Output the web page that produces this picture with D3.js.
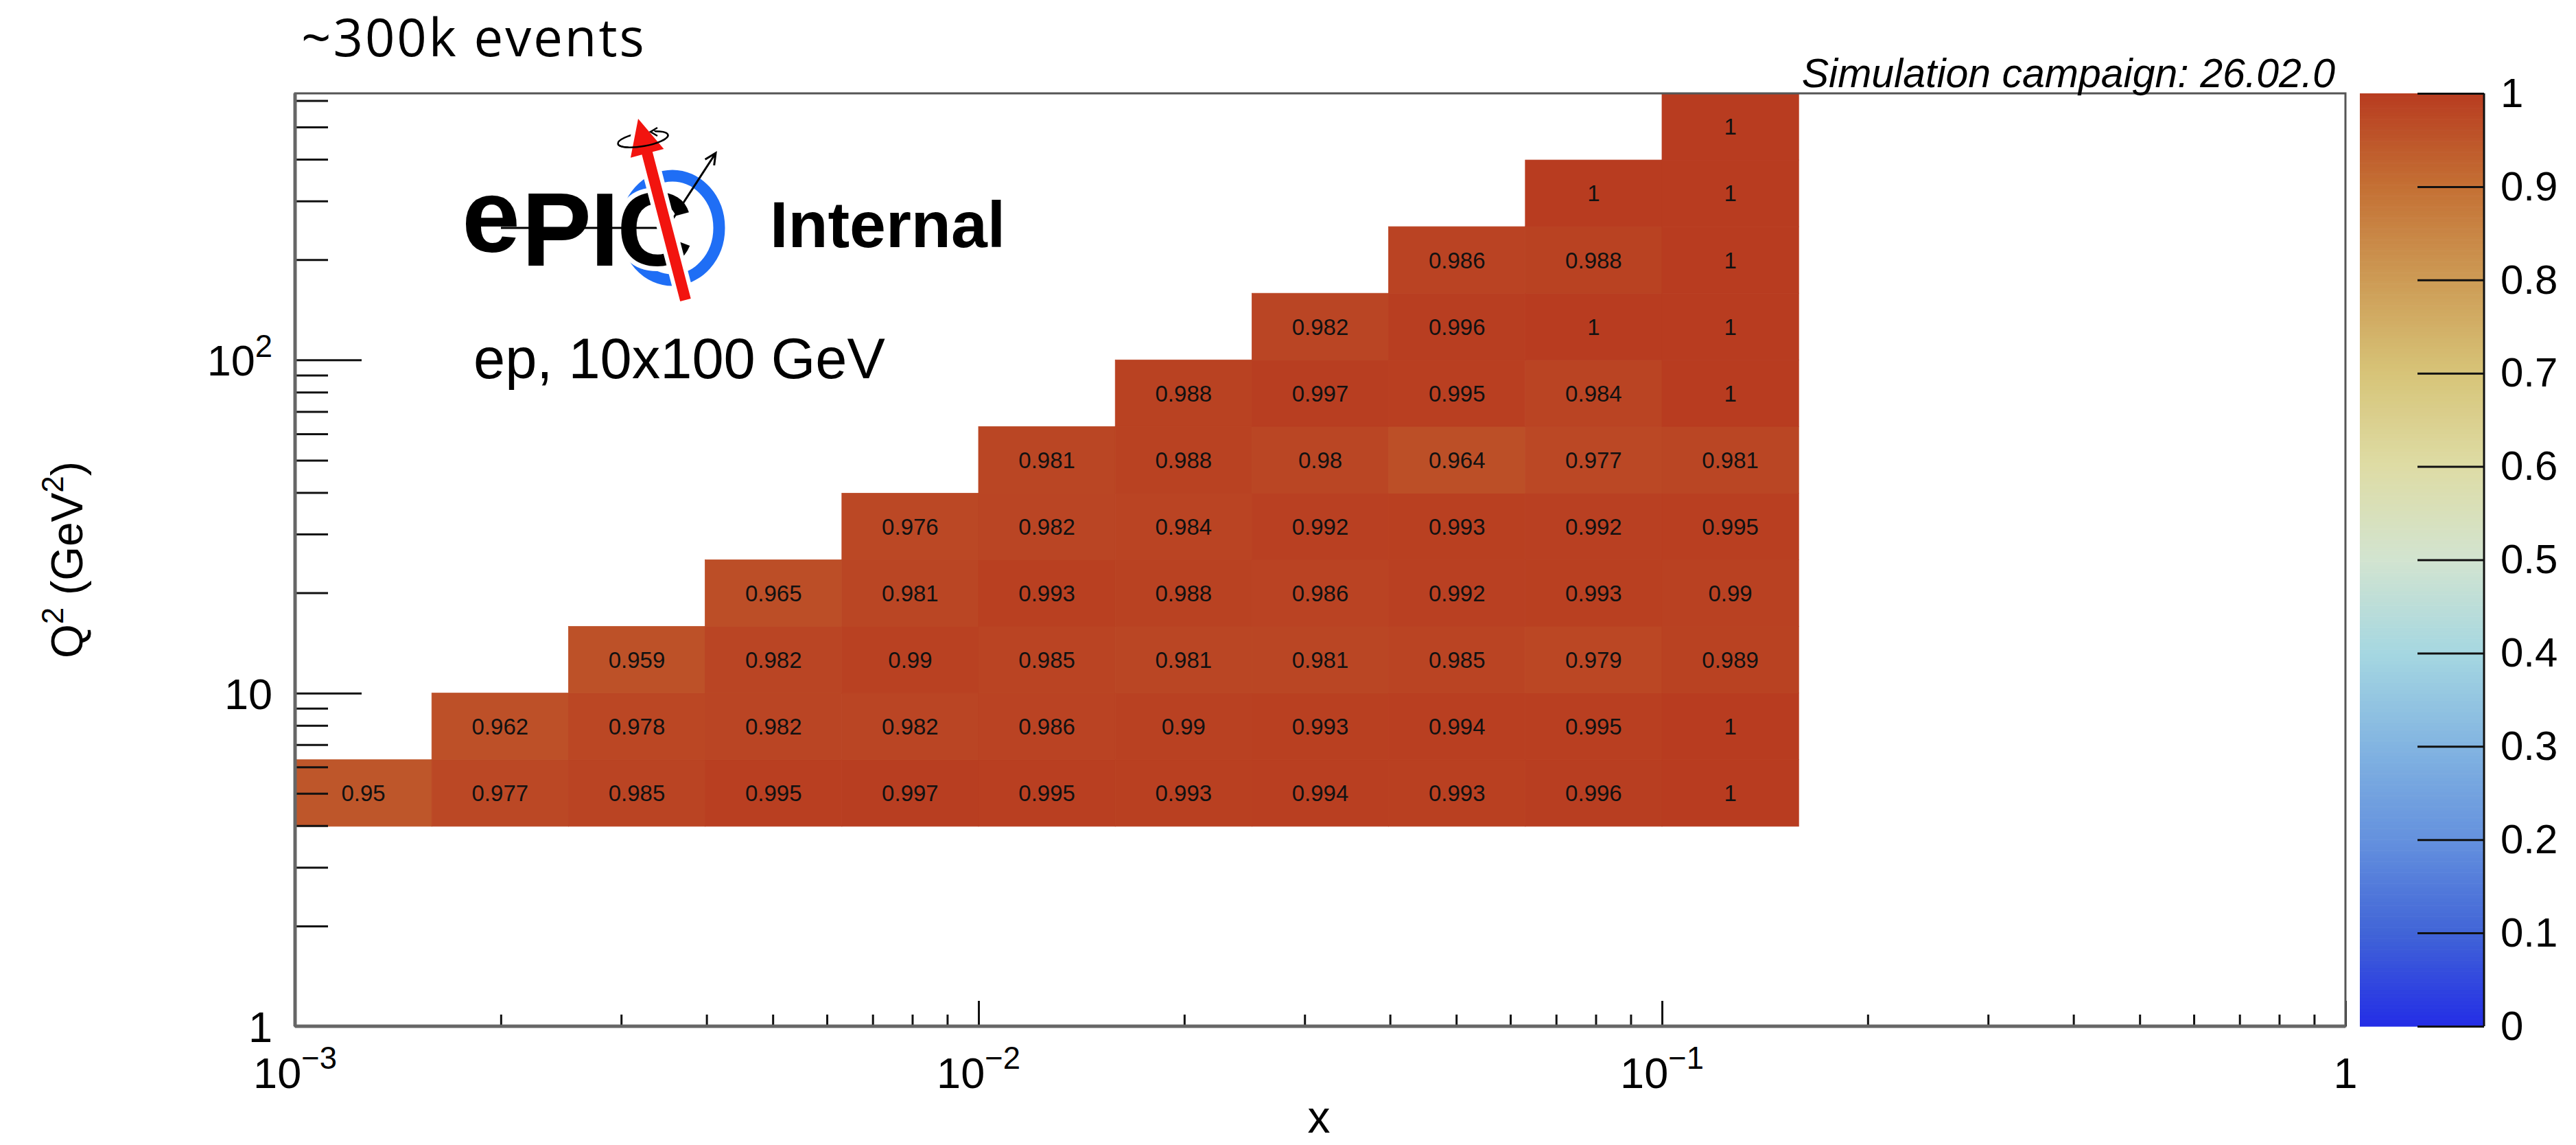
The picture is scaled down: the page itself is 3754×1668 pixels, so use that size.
<!DOCTYPE html>
<html><head><meta charset="utf-8">
<script src="https://cdn.jsdelivr.net/npm/d3@7"></script>
<style>body{margin:0;background:#fff} svg{display:block}</style>
</head><body><svg id="c" width="3754" height="1668"></svg>
<script>
// ---------------- data ----------------
const xBinEdges = [0.001, 0.001585, 0.002512, 0.003981, 0.00631, 0.01, 0.01585, 0.02512, 0.03981, 0.0631, 0.1, 0.1585];
const q2BinEdges = [3.981, 6.31, 10, 15.85, 25.12, 39.81, 63.1, 100, 158.5, 251.2, 398.1, 631];
// efficiency per Q2 row (bottom to top), per x column (left to right); null = empty bin
const effRow0  = [0.95, 0.977, 0.985, 0.995, 0.997, 0.995, 0.993, 0.994, 0.993, 0.996, 1];
const effRow1  = [null, 0.962, 0.978, 0.982, 0.982, 0.986, 0.99, 0.993, 0.994, 0.995, 1];
const effRow2  = [null, null, 0.959, 0.982, 0.99, 0.985, 0.981, 0.981, 0.985, 0.979, 0.989];
const effRow3  = [null, null, null, 0.965, 0.981, 0.993, 0.988, 0.986, 0.992, 0.993, 0.99];
const effRow4  = [null, null, null, null, 0.976, 0.982, 0.984, 0.992, 0.993, 0.992, 0.995];
const effRow5  = [null, null, null, null, null, 0.981, 0.988, 0.98, 0.964, 0.977, 0.981];
const effRow6  = [null, null, null, null, null, null, 0.988, 0.997, 0.995, 0.984, 1];
const effRow7  = [null, null, null, null, null, null, null, 0.982, 0.996, 1, 1];
const effRow8  = [null, null, null, null, null, null, null, null, 0.986, 0.988, 1];
const effRow9  = [null, null, null, null, null, null, null, null, null, 1, 1];
const effRow10 = [null, null, null, null, null, null, null, null, null, null, 1];
const efficiencyRows = [effRow0, effRow1, effRow2, effRow3, effRow4, effRow5, effRow6, effRow7, effRow8, effRow9, effRow10];

const xMajorTicks = [0.001, 0.01, 0.1, 1];
const xMajorLabels = [["10", "\u22123"], ["10", "\u22122"], ["10", "\u22121"], ["1", ""]];
const yMajorTicks = [1, 10, 100];
const yMajorLabels = [["1", ""], ["10", ""], ["10", "2"]];
const zTicks = [0, 0.1, 0.2, 0.3, 0.4, 0.5, 0.6, 0.7, 0.8, 0.9, 1];
const zTickLabels = ["0", "0.1", "0.2", "0.3", "0.4", "0.5", "0.6", "0.7", "0.8", "0.9", "1"];
const paletteStops = [0, 0.1, 0.2, 0.3, 0.4, 0.5, 0.6, 0.7, 0.8, 0.9, 1];
const paletteColors = ["#232de6", "#4164d7", "#6491de", "#82b4e1", "#a5d7e1", "#d2e4d0", "#dedca5", "#d7c478", "#cd9b55", "#c47034", "#b83c20"];

// ---------------- layout ----------------
const L = 430, R = 3418, T = 136, B = 1495;
const CB_L = 3439, CB_R = 3620;
const FONT = "'Liberation Sans', Arial, Helvetica, sans-serif";

const svg = d3.select('#c');
svg.append('rect').attr('width', 3754).attr('height', 1668).attr('fill', '#fff');

const x = d3.scaleLog().domain([0.001, 1]).range([L, R]);
const y = d3.scaleLog().domain([1, 630.96]).range([B, T]);
const color = d3.scaleLinear().domain(paletteStops).range(paletteColors).clamp(true);
const z = d3.scaleLinear().domain([0, 1]).range([B, T]);

// ---------------- cells ----------------
const cells = [];
efficiencyRows.forEach((row, j) => row.forEach((v, i) => { if (v !== null) cells.push({ i, j, v }); }));

const gCells = svg.append('g');
gCells.selectAll('rect').data(cells).join('rect')
  .attr('x', d => x(xBinEdges[d.i]))
  .attr('width', d => x(xBinEdges[d.i + 1]) - x(xBinEdges[d.i]))
  .attr('y', d => y(q2BinEdges[d.j + 1]))
  .attr('height', d => y(q2BinEdges[d.j]) - y(q2BinEdges[d.j + 1]))
  .attr('fill', d => color(d.v))
  .attr('stroke', d => color(d.v)).attr('stroke-width', 0.8);

gCells.selectAll('text').data(cells).join('text')
  .attr('x', d => x(Math.sqrt(xBinEdges[d.i] * xBinEdges[d.i + 1])))
  .attr('y', d => y(Math.sqrt(q2BinEdges[d.j] * q2BinEdges[d.j + 1])))
  .attr('text-anchor', 'middle').attr('dy', '0.36em')
  .attr('font-family', FONT).attr('font-size', 33).attr('fill', '#111')
  .text(d => String(d.v));

// ---------------- axes ticks ----------------
const xMinor = x.ticks().filter(v => !xMajorTicks.some(m => Math.abs(m - v) / v < 1e-6));
const yMinor = y.ticks().filter(v => !yMajorTicks.some(m => Math.abs(m - v) / v < 1e-6));

function styleAxis(g) {
  g.select('.domain').remove();
  g.selectAll('.tick line').attr('stroke', '#111').attr('stroke-width', 3);
  g.selectAll('.tick text').remove();
}
svg.append('g').attr('transform', `translate(0,${B})`)
  .call(d3.axisBottom(x).tickValues(xMinor).tickSize(-17).tickFormat('')).call(styleAxis);
svg.append('g').attr('transform', `translate(0,${B})`)
  .call(d3.axisBottom(x).tickValues(xMajorTicks).tickSize(-37).tickFormat('')).call(styleAxis);
svg.append('g').attr('transform', `translate(${L},0)`)
  .call(d3.axisLeft(y).tickValues(yMinor).tickSize(-48).tickFormat('')).call(styleAxis);
svg.append('g').attr('transform', `translate(${L},0)`)
  .call(d3.axisLeft(y).tickValues(yMajorTicks).tickSize(-97).tickFormat('')).call(styleAxis);

// frame
svg.append('rect').attr('x', L).attr('y', T).attr('width', R - L).attr('height', B - T)
  .attr('fill', 'none').attr('stroke', '#555').attr('stroke-width', 3);
svg.append('line').attr('x1', L).attr('x2', L).attr('y1', T).attr('y2', B).attr('stroke', '#666').attr('stroke-width', 5);
svg.append('line').attr('x1', L).attr('x2', R).attr('y1', B).attr('y2', B).attr('stroke', '#666').attr('stroke-width', 5);

// tick labels with superscripts
function supLabel(sel, parts, size) {
  sel.append('tspan').text(parts[0]);
  if (parts[1]) sel.append('tspan').attr('font-size', size * 0.72).attr('dy', -size * 0.44).text(parts[1]);
}
xMajorTicks.forEach((v, k) => {
  const t = svg.append('text').attr('x', x(v)).attr('y', 1585).attr('text-anchor', 'middle')
    .attr('font-family', FONT).attr('font-size', 63).attr('fill', '#000');
  supLabel(t, xMajorLabels[k], 63);
});
yMajorTicks.forEach((v, k) => {
  const t = svg.append('text').attr('x', 397).attr('y', y(v) + 23).attr('text-anchor', 'end')
    .attr('font-family', FONT).attr('font-size', 63).attr('fill', '#000');
  supLabel(t, yMajorLabels[k], 63);
});

// axis titles
svg.append('text').attr('x', 1922).attr('y', 1650).attr('text-anchor', 'middle')
  .attr('font-family', FONT).attr('font-size', 66).text('x');
const yt = svg.append('text').attr('transform', `translate(120,${(T + B) / 2}) rotate(-90)`)
  .attr('text-anchor', 'middle').attr('font-family', FONT).attr('font-size', 64);
yt.append('tspan').text('Q');
yt.append('tspan').attr('font-size', 44).attr('dy', -28).text('2');
yt.append('tspan').attr('dy', 28).text(' (GeV');
yt.append('tspan').attr('font-size', 44).attr('dy', -28).text('2');
yt.append('tspan').attr('dy', 28).text(')');

// ---------------- colour bar ----------------
const nBands = 255;
const bands = d3.range(nBands).map(k => k / nBands);
svg.append('g').selectAll('rect').data(bands).join('rect')
  .attr('x', CB_L).attr('width', CB_R - CB_L)
  .attr('y', d => z(d + 1 / nBands)).attr('height', d => z(d) - z(d + 1 / nBands) + 0.6)
  .attr('fill', d => color(d + 0.5 / nBands));
svg.append('line').attr('x1', CB_R).attr('x2', CB_R).attr('y1', T).attr('y2', B).attr('stroke', '#111').attr('stroke-width', 3);
const zAx = svg.append('g').attr('transform', `translate(${CB_R},0)`)
  .call(d3.axisRight(z).tickValues(zTicks).tickSize(-97).tickPadding(24).tickFormat((d, i) => zTickLabels[i]));
zAx.select('.domain').remove();
zAx.selectAll('.tick line').attr('stroke', '#111').attr('stroke-width', 3);
zAx.selectAll('.tick text').attr('font-family', FONT).attr('font-size', 60).attr('fill', '#000');

// ---------------- annotations ----------------
svg.append('text').attr('x', 439).attr('y', 82).attr('font-family', "'Open Sans', sans-serif")
  .attr('font-size', 76).attr('letter-spacing', 3).attr('fill', '#000').text('~300k events');
svg.append('text').attr('x', 3403).attr('y', 127).attr('text-anchor', 'end')
  .attr('font-family', FONT).attr('font-style', 'italic').attr('font-size', 59).attr('fill', '#000')
  .text('Simulation campaign: 26.02.0');
svg.append('text').attr('x', 690).attr('y', 551).attr('font-family', FONT).attr('font-size', 83)
  .attr('fill', '#000').text('ep, 10x100 GeV');
svg.append('text').attr('x', 1122).attr('y', 360).attr('font-family', FONT).attr('font-weight', 'bold')
  .attr('font-size', 95).attr('fill', '#000').text('Internal');

// ---------------- ePIC logo ----------------
const logo = svg.append('g');
logo.append('ellipse').attr('cx', 980).attr('cy', 332).attr('rx', 68).attr('ry', 76)
  .attr('fill', 'none').attr('stroke', '#1f6ef5').attr('stroke-width', 17);
const lf = { 'font-family': FONT, 'font-weight': 'bold', 'font-size': 153, 'fill': '#000',
  'stroke': '#fff', 'stroke-width': 14, 'paint-order': 'stroke', 'stroke-linejoin': 'round' };
function letter(ch, lx, ly) {
  const t = logo.append('text').attr('x', lx).attr('y', ly).text(ch);
  Object.entries(lf).forEach(([k, v]) => t.attr(k, v));
  return t;
}
letter('e', 673, 367);
letter('P', 760, 387);
letter('I', 860, 387);
letter('C', 899, 387);
logo.append('line').attr('x1', 730).attr('x2', 972).attr('y1', 332).attr('y2', 332).attr('stroke', '#000').attr('stroke-width', 3);
// black arrow
(function () {
  const x0 = 972, y0 = 332, x1 = 1043, y1 = 223;
  const a = Math.atan2(y1 - y0, x1 - x0), h = 18, s = 0.45;
  logo.append('path').attr('d', `M${x0},${y0}L${x1},${y1}M${x1 - h * Math.cos(a - s)},${y1 - h * Math.sin(a - s)}L${x1},${y1}L${x1 - h * Math.cos(a + s)},${y1 - h * Math.sin(a + s)}`)
    .attr('fill', 'none').attr('stroke', '#000').attr('stroke-width', 3);
})();
// swirl (back)
logo.append('ellipse').attr('cx', 937).attr('cy', 203).attr('rx', 37).attr('ry', 10)
  .attr('transform', 'rotate(-10 937 203)').attr('fill', 'none').attr('stroke', '#000').attr('stroke-width', 2.5);
// red arrow
(function () {
  const sx = 999, sy = 437, tx = 930, ty = 173;
  const len = Math.hypot(tx - sx, ty - sy), ux = (tx - sx) / len, uy = (ty - sy) / len;
  const px = -uy, py = ux, w = 8, hw = 25, hl = 52;
  const bx = tx - ux * hl, by = ty - uy * hl;
  const pts = [[sx + px * w, sy + py * w], [bx + px * w, by + py * w], [bx + px * hw, by + py * hw], [tx, ty],
    [bx - px * hw, by - py * hw], [bx - px * w, by - py * w], [sx - px * w, sy - py * w]];
  logo.append('polygon').attr('points', pts.map(p => p.join(',')).join(' '))
    .attr('fill', '#f2140f').attr('stroke', '#fff').attr('stroke-width', 12).attr('paint-order', 'stroke').attr('stroke-linejoin', 'round');
})();
// swirl (front half)
logo.append('path').attr('d', 'M900,203 A37,10 0 0 0 974,203').attr('transform', 'rotate(-10 937 203)')
  .attr('fill', 'none').attr('stroke', '#000').attr('stroke-width', 2.5);
logo.append('path').attr('d', 'M958,186 L948,192 L958,198').attr('fill', 'none').attr('stroke', '#000').attr('stroke-width', 2.5);
</script></body></html>
